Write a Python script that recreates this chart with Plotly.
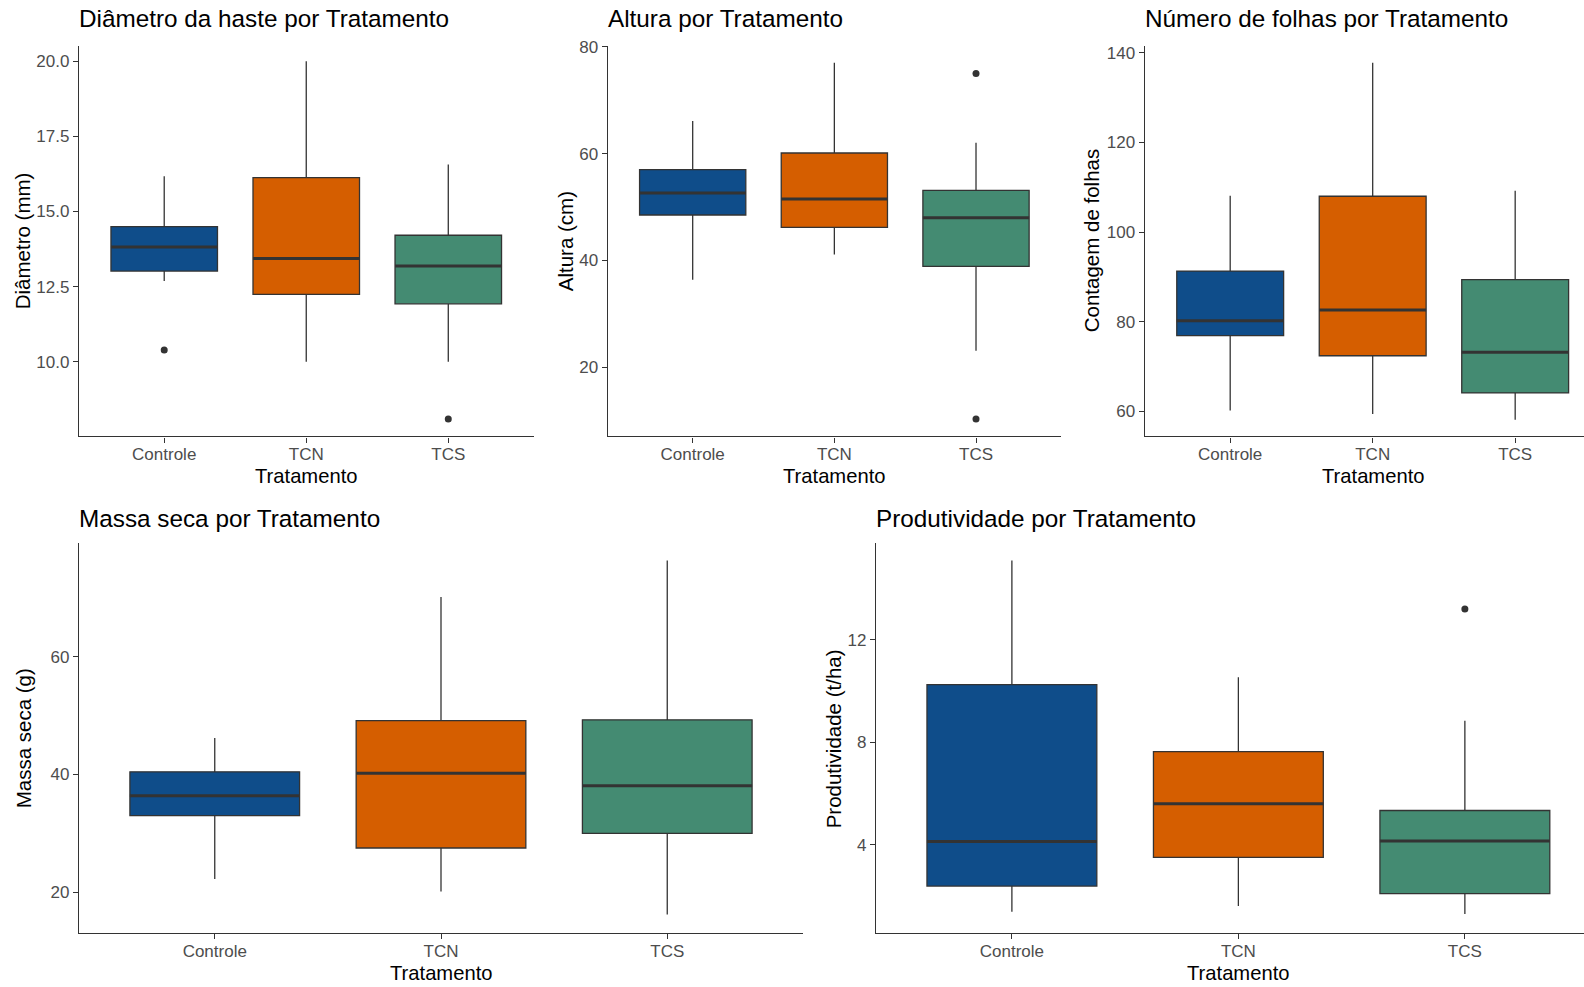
import plotly.graph_objects as go

W, H = 1584, 987

categorias = ["Controle", "TCN", "TCS"]
cores = ["#0F4D8A", "#D55E00", "#448B72"]

# Diâmetro da haste (mm)
diam_q1 = [13.02, 12.24, 11.93]
diam_med = [13.82, 13.44, 13.19]
diam_q3 = [14.50, 16.13, 14.21]
diam_min = [12.69, 10.0, 10.0]
diam_max = [16.17, 20.0, 16.56]
diam_out_x = ["Controle", "TCS"]
diam_out_y = [10.39, 8.1]
diam_ticks = [10.0, 12.5, 15.0, 17.5, 20.0]

# Altura (cm)
alt_q1 = [48.5, 46.2, 38.9]
alt_med = [52.6, 51.5, 48.0]
alt_q3 = [57.0, 60.1, 53.1]
alt_min = [36.4, 41.1, 23.1]
alt_max = [66.1, 77.0, 62.0]
alt_out_x = ["TCS", "TCS"]
alt_out_y = [75.0, 10.3]
alt_ticks = [20, 40, 60, 80]

# Número de folhas
folhas_q1 = [76.9, 72.4, 64.1]
folhas_med = [80.2, 82.6, 73.2]
folhas_q3 = [91.3, 108.0, 89.4]
folhas_min = [60.2, 59.4, 58.1]
folhas_max = [108.1, 137.8, 109.2]
folhas_out_x = []
folhas_out_y = []
folhas_ticks = [60, 80, 100, 120, 140]

# Massa seca (g)
massa_q1 = [33.0, 27.5, 30.0]
massa_med = [36.4, 40.2, 38.1]
massa_q3 = [40.45, 49.15, 49.3]
massa_min = [22.25, 20.1, 16.2]
massa_max = [46.2, 70.2, 76.4]
massa_out_x = []
massa_out_y = []
massa_ticks = [20, 40, 60]

# Produtividade (t/ha)
prod_q1 = [2.39, 3.51, 2.10]
prod_med = [4.13, 5.60, 4.15]
prod_q3 = [10.25, 7.64, 5.34]
prod_min = [1.39, 1.61, 1.30]
prod_max = [15.09, 10.54, 8.84]
prod_out_x = ["TCS"]
prod_out_y = [13.2]
prod_ticks = [4, 8, 12]

FONT = "Liberation Sans, Arial, sans-serif"
INK = "#333333"
BOX_W = 0.75

# panel geometry in pixels: left, right, top, bottom, x range, y range
paineis = [
    dict(titulo="Diâmetro da haste por Tratamento", ytitulo="Diâmetro (mm)",
         q1=diam_q1, med=diam_med, q3=diam_q3, lo=diam_min, hi=diam_max,
         ox=diam_out_x, oy=diam_out_y, ticks=diam_ticks, fmt="{:.1f}",
         px=(79, 533.5, 37.5, 431.3), xr=(0.4, 3.6), yr=(7.52, 20.50), ytx=22),
    dict(titulo="Altura por Tratamento", ytitulo="Altura (cm)",
         q1=alt_q1, med=alt_med, q3=alt_q3, lo=alt_min, hi=alt_max,
         ox=alt_out_x, oy=alt_out_y, ticks=alt_ticks, fmt="{:d}",
         px=(607.7, 1061, 37.5, 431.3), xr=(0.4, 3.6), yr=(7.07, 80.1), ytx=565),
    dict(titulo="Número de folhas por Tratamento", ytitulo="Contagem de folhas",
         q1=folhas_q1, med=folhas_med, q3=folhas_q3, lo=folhas_min, hi=folhas_max,
         ox=folhas_out_x, oy=folhas_out_y, ticks=folhas_ticks, fmt="{:d}",
         px=(1144.7, 1584, 37.5, 431.3), xr=(0.4, 3.483), yr=(54.4, 141.5), ytx=1091,
         xcenter=1372.7),
    dict(titulo="Massa seca por Tratamento", ytitulo="Massa seca (g)",
         q1=massa_q1, med=massa_med, q3=massa_q3, lo=massa_min, hi=massa_max,
         ox=massa_out_x, oy=massa_out_y, ticks=massa_ticks, fmt="{:d}",
         px=(79, 803, 539.3, 932.8), xr=(0.4, 3.6), yr=(13.0, 79.3), ytx=23),
    dict(titulo="Produtividade por Tratamento", ytitulo="Produtividade (t/ha)",
         q1=prod_q1, med=prod_med, q3=prod_q3, lo=prod_min, hi=prod_max,
         ox=prod_out_x, oy=prod_out_y, ticks=prod_ticks, fmt="{:d}",
         px=(876, 1584, 539.3, 932.8), xr=(0.4, 3.526), yr=(0.55, 15.76), ytx=833,
         xcenter=1237.5),
]

pos = {c: i + 1 for i, c in enumerate(categorias)}

fig = go.Figure()
layout = dict(
    width=W, height=H,
    margin=dict(l=0, r=0, t=0, b=0),
    paper_bgcolor="white", plot_bgcolor="white",
    showlegend=False,
    font=dict(family=FONT, color="black"),
    annotations=[],
)

for k, p in enumerate(paineis, start=1):
    xa = "x" if k == 1 else f"x{k}"
    ya = "y" if k == 1 else f"y{k}"
    left, right, top, bottom = p["px"]

    for i, cat in enumerate(categorias):
        fig.add_trace(go.Box(
            x=[pos[cat]], q1=[p["q1"][i]], median=[p["med"][i]], q3=[p["q3"][i]],
            lowerfence=[p["lo"][i]], upperfence=[p["hi"][i]],
            width=BOX_W, whiskerwidth=0, boxpoints=False,
            fillcolor=cores[i], line=dict(color=INK, width=1.3),
            xaxis=xa, yaxis=ya, hoverinfo="skip",
        ))
        # thicker median bar, as in ggplot's geom_boxplot
        fig.add_trace(go.Scatter(
            x=[pos[cat] - BOX_W / 2, pos[cat] + BOX_W / 2],
            y=[p["med"][i], p["med"][i]],
            mode="lines", line=dict(color=INK, width=3),
            xaxis=xa, yaxis=ya, hoverinfo="skip",
        ))

    if p["ox"]:
        fig.add_trace(go.Scatter(
            x=[pos[c] for c in p["ox"]], y=p["oy"], mode="markers",
            marker=dict(color=INK, size=7),
            xaxis=xa, yaxis=ya, hoverinfo="skip",
        ))

    axis_common = dict(
        showgrid=False, zeroline=False, showline=True,
        linecolor=INK, linewidth=1.3,
        ticks="outside", ticklen=5, tickwidth=1.1, tickcolor=INK,
        tickfont=dict(family=FONT, size=17, color="#4D4D4D"),
    )
    layout["xaxis" if k == 1 else f"xaxis{k}"] = dict(
        axis_common,
        domain=[left / W, right / W], anchor=ya,
        range=list(p["xr"]),
        tickvals=[1, 2, 3], ticktext=categorias,
        ticklabelstandoff=-3,
    )
    layout["yaxis" if k == 1 else f"yaxis{k}"] = dict(
        axis_common,
        domain=[1 - bottom / H, 1 - top / H], anchor=xa,
        range=list(p["yr"]),
        tickvals=p["ticks"], ticktext=[p["fmt"].format(t) for t in p["ticks"]],
        ticklabelstandoff=0,
    )

    # panel title (top row sits a little higher)
    ty = top - (27.5 if top < 100 else 25.5)
    layout["annotations"].append(dict(
        text=p["titulo"], xref="paper", yref="paper",
        x=(left - 2) / W, y=1 - ty / H,
        xanchor="left", yanchor="middle", showarrow=False,
        font=dict(family=FONT, size=24.3, color="black"),
    ))
    # x axis title
    xc = p.get("xcenter", (left + right) / 2)
    layout["annotations"].append(dict(
        text="Tratamento", xref="paper", yref="paper",
        x=xc / W, y=1 - (bottom + 40) / H,
        xanchor="center", yanchor="middle", showarrow=False,
        font=dict(family=FONT, size=20.2, color="black"),
    ))
    # y axis title
    layout["annotations"].append(dict(
        text=p["ytitulo"], xref="paper", yref="paper",
        x=p["ytx"] / W, y=1 - ((top + bottom) / 2) / H,
        xanchor="center", yanchor="middle", textangle=-90, showarrow=False,
        font=dict(family=FONT, size=20.5, color="black"),
    ))

fig.update_layout(**layout)
fig.write_html("out.html")
